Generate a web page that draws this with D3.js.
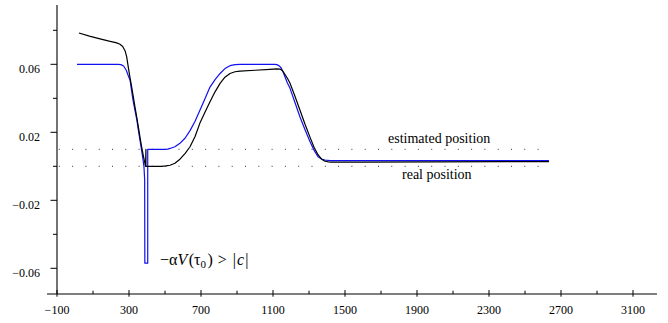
<!DOCTYPE html>
<html>
<head>
<meta charset="utf-8">
<script src="https://cdn.jsdelivr.net/npm/d3@7"></script>
<style>
  body { margin: 0; background: #fff; }
</style>
</head>
<body>
<div id="chart"></div>
<script>
// real position (black)
var realT   = [22, 80, 139, 190, 232, 250, 265, 278, 287, 296, 305, 315, 324, 333, 343, 352, 361, 370, 381, 392, 394, 394, 396, 440, 480, 505, 528, 555, 583, 611, 639, 667, 694, 722, 750, 778, 806, 833, 861, 889, 917, 1000, 1083, 1120, 1139, 1153, 1167, 1180, 1194, 1222, 1250, 1278, 1306, 1328, 1350, 1370, 1389, 1417, 1500, 1600, 2000, 2400, 2633];
var realPos = [0.0784, 0.0766, 0.075, 0.0736, 0.0726, 0.0718, 0.0705, 0.068, 0.0645, 0.0583, 0.0525, 0.0466, 0.0408, 0.035, 0.029, 0.0232, 0.0172, 0.0115, 0.0055, 0.0, 0.01, 0.0, 0.0, 0.0, 0.0, 0.0002, 0.0006, 0.0018, 0.0042, 0.0075, 0.0115, 0.0175, 0.0254, 0.0318, 0.038, 0.0438, 0.0488, 0.0524, 0.0546, 0.0556, 0.056, 0.0565, 0.057, 0.0573, 0.0572, 0.0562, 0.054, 0.0518, 0.049, 0.0412, 0.033, 0.0247, 0.017, 0.0112, 0.0068, 0.0042, 0.003, 0.0024, 0.0024, 0.0025, 0.0026, 0.0027, 0.0027];

// estimated position (blue)
var estT   = [11, 100, 200, 240, 255, 270, 285, 295, 306, 314, 322, 333, 344, 352, 361, 370, 378, 383, 387, 388, 402, 404, 404, 450, 500, 515, 528, 555, 583, 611, 639, 667, 694, 722, 750, 778, 806, 833, 861, 889, 917, 1000, 1110, 1122, 1135, 1145, 1156, 1167, 1180, 1194, 1222, 1250, 1278, 1306, 1328, 1350, 1370, 1389, 1417, 1600, 2000, 2633];
var estPos = [0.06, 0.06, 0.06, 0.06, 0.0598, 0.059, 0.0565, 0.0535, 0.0506, 0.0448, 0.039, 0.033, 0.027, 0.0212, 0.0154, 0.0095, 0.0037, 0.0, -0.008, -0.057, -0.057, -0.057, 0.01, 0.01, 0.01, 0.0101, 0.0105, 0.0115, 0.0135, 0.0165, 0.021, 0.0265, 0.033, 0.0398, 0.0466, 0.051, 0.0546, 0.0575, 0.0592, 0.0598, 0.06, 0.06, 0.06, 0.0598, 0.059, 0.058, 0.0555, 0.0525, 0.049, 0.046, 0.0375, 0.029, 0.0215, 0.0144, 0.0095, 0.0056, 0.0043, 0.0037, 0.0033, 0.0033, 0.0033, 0.0033];

// reference levels (dotted)
var refLevels = [0.01, 0.0];
var refLabels = ["estimated position", "real position"];

var xMajor = [-100, 300, 700, 1100, 1500, 1900, 2300, 2700, 3100];
var xMinor = [100, 500, 900, 1300, 1700, 2100, 2500, 2900];
var yMajor = [0.06, 0.02, -0.02, -0.06];
var yMinor = [0.08, 0.04, 0.0, -0.04];

var serif = "'Liberation Serif', 'Times New Roman', Times, 'DejaVu Serif', serif";

var width = 668, height = 323;
var x = d3.scaleLinear().domain([-100, 3100]).range([57, 633]);
var y = d3.scaleLinear().domain([-0.06, 0.06]).range([268.3, 64.3]);

var svg = d3.select('#chart').append('svg')
  .attr('width', width)
  .attr('height', height);

// dotted reference lines
svg.selectAll('.ref')
  .data(refLevels)
  .enter()
  .append('line')
  .attr('class', 'ref')
  .attr('x1', x(-90)).attr('x2', x(2640))
  .attr('y1', function(d) { return y(d); })
  .attr('y2', function(d) { return y(d); })
  .attr('stroke', '#333')
  .attr('stroke-width', 1)
  .attr('stroke-dasharray', '1,12.3');

var line = d3.line()
  .x(function(d) { return x(d[0]); })
  .y(function(d) { return y(d[1]); })
  .curve(d3.curveLinear);

svg.append('path')
  .datum(estT.map(function(t, i) { return [t, estPos[i]]; }))
  .attr('d', line)
  .attr('fill', 'none')
  .attr('stroke', '#1010f0')
  .attr('stroke-width', 1.2)
  .attr('stroke-linejoin', 'round');

svg.append('path')
  .datum(realT.map(function(t, i) { return [t, realPos[i]]; }))
  .attr('d', line)
  .attr('fill', 'none')
  .attr('stroke', '#000')
  .attr('stroke-width', 1.2)
  .attr('stroke-linejoin', 'round');

// axes
var y0 = 294;
svg.append('line')
  .attr('x1', 47).attr('x2', 657)
  .attr('y1', y0).attr('y2', y0)
  .attr('stroke', '#000').attr('stroke-width', 1.1);
svg.append('line')
  .attr('x1', x(-100)).attr('x2', x(-100))
  .attr('y1', 5).attr('y2', y0)
  .attr('stroke', '#000').attr('stroke-width', 1.1);

svg.selectAll('.xmaj').data(xMajor).enter().append('line')
  .attr('x1', function(d) { return x(d); }).attr('x2', function(d) { return x(d); })
  .attr('y1', y0 - 4).attr('y2', y0 + 2.7)
  .attr('stroke', '#000');
svg.selectAll('.xmin').data(xMinor).enter().append('line')
  .attr('x1', function(d) { return x(d); }).attr('x2', function(d) { return x(d); })
  .attr('y1', y0 - 3.3).attr('y2', y0)
  .attr('stroke', '#000');
svg.selectAll('.xlab').data(xMajor).enter().append('text')
  .attr('x', function(d) { return x(d); })
  .attr('y', 314)
  .attr('text-anchor', 'middle')
  .style('font-family', serif)
  .style('font-size', '12px')
  .text(function(d) { return d < 0 ? '\u2212' + Math.abs(d) : d; });

svg.selectAll('.ymaj').data(yMajor).enter().append('line')
  .attr('x1', x(-100) - 6.5).attr('x2', x(-100))
  .attr('y1', function(d) { return y(d); }).attr('y2', function(d) { return y(d); })
  .attr('stroke', '#000');
svg.selectAll('.ymin').data(yMinor).enter().append('line')
  .attr('x1', x(-100) - 4).attr('x2', x(-100))
  .attr('y1', function(d) { return y(d); }).attr('y2', function(d) { return y(d); })
  .attr('stroke', '#000');
svg.selectAll('.ylab').data(yMajor).enter().append('text')
  .attr('x', 40)
  .attr('y', function(d) { return y(d) + 8.5; })
  .attr('text-anchor', 'end')
  .style('font-family', serif)
  .style('font-size', '12px')
  .text(function(d) { return (d < 0 ? '\u2212' : '') + Math.abs(d).toFixed(2); });

// labels
svg.append('text').attr('x', 388).attr('y', 142.5)
  .style('font-family', serif).style('font-size', '14px').text(refLabels[0]);
svg.append('text').attr('x', 402).attr('y', 179)
  .style('font-family', serif).style('font-size', '14px').text(refLabels[1]);

var math = svg.append('text').attr('x', 160).attr('y', 265)
  .style('font-family', serif).style('font-size', '16px');
math.append('tspan').text('\u2212\u03b1');
math.append('tspan').style('font-style', 'italic').text('V');
math.append('tspan').attr('dx', 1.5).text('(\u03c4');
math.append('tspan').style('font-size', '11px').attr('dy', 3).text('0');
math.append('tspan').attr('dy', -3).attr('dx', 1.5).text(')');
math.append('tspan').attr('dx', 5).text('>');
math.append('tspan').attr('dx', 6).text('|');
math.append('tspan').attr('dx', 1).style('font-style', 'italic').text('c');
math.append('tspan').attr('dx', 1).text('|');
</script>
</body>
</html>
